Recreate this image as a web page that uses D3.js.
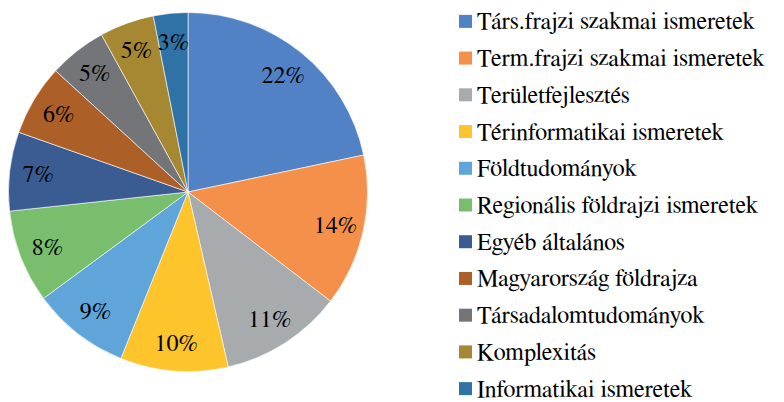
<!DOCTYPE html>
<html>
<head>
<meta charset="utf-8">
<script src="https://cdn.jsdelivr.net/npm/d3@7"></script>
</head>
<body style="margin:0">
<svg id="chart" width="784" height="402"></svg>
<script>
const categories = [
  "Társ.frajzi szakmai ismeretek",
  "Term.frajzi szakmai ismeretek",
  "Területfejlesztés",
  "Térinformatikai ismeretek",
  "Földtudományok",
  "Regionális földrajzi ismeretek",
  "Egyéb általános",
  "Magyarország földrajza",
  "Társadalomtudományok",
  "Komplexitás",
  "Informatikai ismeretek"
];
const values = [21.7, 13.7, 11.0, 9.7, 8.8, 8.4, 7.1, 6.4, 5.2, 4.9, 3.1];
const labels = ["22%", "14%", "11%", "10%", "9%", "8%", "7%", "6%", "5%", "5%", "3%"];
const colors = ["#5282C6", "#F4904A", "#A8ABAD", "#FDC42C", "#5FA5DA", "#78BE6C",
                "#3B5C93", "#AD5F28", "#737579", "#A68732", "#2F72A6"];

const svg = d3.select("#chart");
const cx = 188, cy = 192, R = 179.5, labelR = 151;

const data = categories.map((c, i) => ({ name: c, value: values[i], label: labels[i], color: colors[i] }));

const pie = d3.pie().value(d => d.value).sort(null);
const arcs = pie(data);
const arc = d3.arc().innerRadius(0).outerRadius(R);
const labelArc = d3.arc().innerRadius(labelR).outerRadius(labelR);

const g = svg.append("g").attr("transform", `translate(${cx},${cy})`);
g.selectAll("path.slice").data(arcs).enter().append("path")
  .attr("d", arc)
  .attr("fill", d => d.data.color)
  .attr("stroke", "#fff")
  .attr("stroke-width", 0.6);

svg.selectAll("text.lbl").data(arcs).enter().append("text")
  .attr("class", "lbl")
  .attr("x", d => cx + labelArc.centroid(d)[0])
  .attr("y", d => cy + labelArc.centroid(d)[1] + 8)
  .attr("text-anchor", "middle")
  .attr("font-size", 24)
  .style("font-family", d => `"FreeSerif", "Liberation Serif", monospace`)
  .text(d => d.data.label);

const legendY = d3.scaleBand().domain(categories).range([3, 407]).paddingInner(0);
svg.selectAll("rect.sw").data(data).enter().append("rect")
  .attr("class", "sw")
  .attr("x", 459)
  .attr("y", d => legendY(d.name) + legendY.bandwidth() / 2 - 6.5)
  .attr("width", 13).attr("height", 13)
  .attr("fill", d => d.color);
svg.selectAll("text.lg").data(data).enter().append("text")
  .attr("class", "lg")
  .attr("x", 477)
  .attr("y", d => legendY(d.name) + legendY.bandwidth() / 2 + 8)
  .attr("font-size", 24)
  .style("font-family", d => `"FreeSerif", "Liberation Serif", monospace`)
  .text(d => d.name);
</script>
</body>
</html>
